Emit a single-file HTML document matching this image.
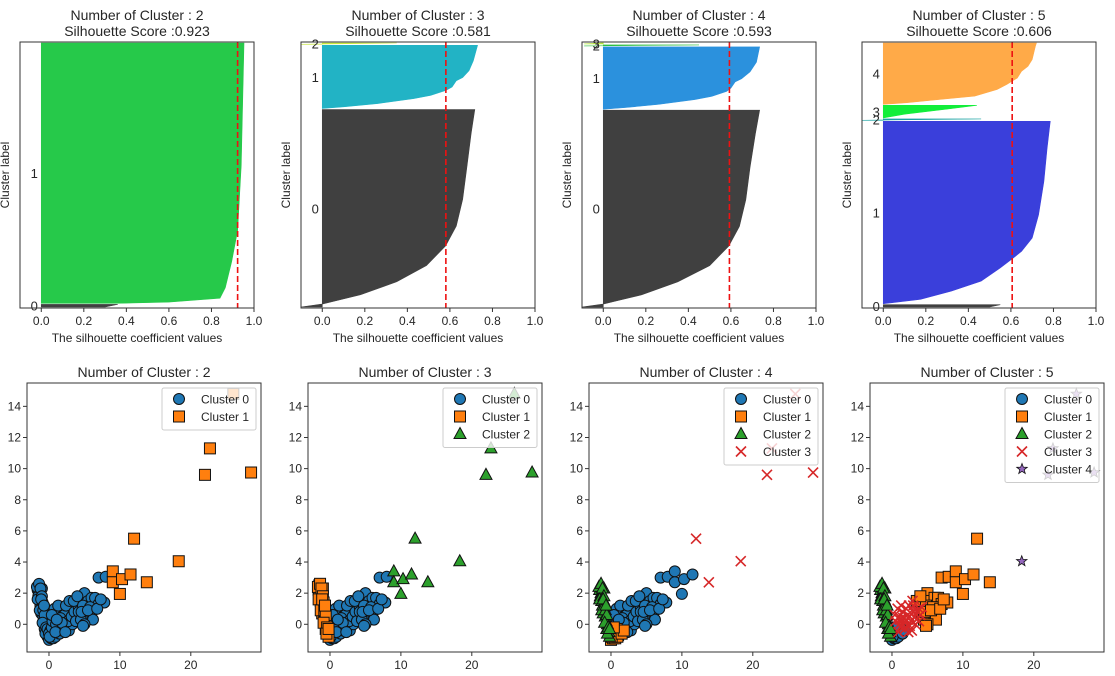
<!DOCTYPE html>
<html><head><meta charset="utf-8"><style>
html,body{margin:0;padding:0;background:#fff;}
svg{display:block;font-family:"Liberation Sans","NanumGothic",sans-serif;}
</style></head><body>
<svg id="fig" width="1115" height="676" viewBox="0 0 1115 676" xmlns="http://www.w3.org/2000/svg"></svg>
<script>
// ---------- data ----------
const clusterCounts = [2, 3, 4, 5];
const silScores = [0.923, 0.581, 0.593, 0.606];
const sizesK2 = [8, 790];
const sizesK3 = [600, 192, 4];
const sizesK4 = [600, 190, 3, 3];
const sizesK5 = [7, 550, 4, 38, 185];
const fracsK2 = [[0, 1], [0, 0.005, 0.02, 0.06, 0.16, 0.28, 0.53, 1]];
const valsK2 = [[0.30, 0.36], [0.35, 0.6, 0.84, 0.865, 0.895, 0.923, 0.94, 0.953]];
const fracsK3 = [[0,0.015,0.028,0.062,0.128,0.21,0.31,0.41,0.545,0.71,0.88,1],[0,0.026,0.078,0.156,0.208,0.286,0.34,0.44,0.49,0.6,0.755,1],[0,1]];
const valsK3 = [[-0.1,0.0,0.05,0.18,0.35,0.49,0.58,0.63,0.66,0.68,0.70,0.717],[0.0,0.1,0.26,0.43,0.51,0.58,0.61,0.63,0.66,0.69,0.71,0.73],[-0.1,0.35]];
const fracsK4 = [[0,0.015,0.028,0.062,0.128,0.21,0.31,0.41,0.545,0.71,0.88,1],[0,0.026,0.078,0.156,0.208,0.286,0.34,0.44,0.49,0.6,0.755,1],[0,1],[0,1]];
const valsK4 = [[-0.1,0.0,0.05,0.18,0.35,0.5,0.59,0.64,0.67,0.69,0.715,0.735],[0,0.1,0.26,0.43,0.51,0.58,0.6,0.62,0.65,0.69,0.72,0.735],[-0.09,0.45],[-0.09,0.0]];
const fracsK5 = [[0,1],[0,0.024,0.069,0.124,0.196,0.25,0.287,0.36,0.487,0.67,0.85,1],[0,1],[0,0.3,0.7,1],[0,0.027,0.081,0.135,0.243,0.324,0.43,0.54,0.62,0.73,0.946,1]];
const valsK5 = [[0.5,0.55],[0,0.175,0.32,0.46,0.55,0.61,0.65,0.70,0.73,0.755,0.77,0.785],[-0.1,0.46],[0.0,0.1,0.3,0.44],[0,0.11,0.27,0.43,0.535,0.58,0.63,0.65,0.68,0.70,0.715,0.72]];
const silColors = [["#404040","#26c94a"],["#404040","#22b3c5","#c8e83a"],["#404040","#2b91dd","#2dbf40","#b8e83a"],["#404040","#3a3fdb","#19a3a3","#12ee3a","#ffaa48"]];

// scatter points by region: left arm, bottom, central, right arm, mid outliers, far outliers
const leftX = [-1.5,-1.6,-1.4,-1.5,-1.3,-1.2,-1.0,-1.1,-0.8,-0.7,-0.5,-0.6,-0.3,-0.2,-1.0,-1.7,-1.4,-1.2,-1.6,-1.0,-0.9,-1.3,-0.8,-0.6,-0.9,-0.4,-0.5,-0.2,-1.1,-0.7];
const leftY = [2.5,2.2,2.0,1.8,1.5,1.2,1.0,0.7,0.5,0.2,0,-0.3,-0.5,-0.8,2.3,2.4,2.6,2.3,1.6,1.8,1.4,0.9,0.9,0.6,0.1,-0.2,-0.6,-0.3,1.6,1.2];
const botX = [0,0.3,0.5,0.2,1,0.8,0,1.3,0.6,0.9,0.1,1.5,1.8,0.4];
const botY = [-1,-0.9,-0.6,-0.4,-0.7,-0.3,-0.6,-0.5,-0.9,-0.8,-0.8,-0.6,-0.4,-0.2];
const cenX = [1.5,2,2.5,3,1,1.8,2.5,3.5,3,2,1.5,0.5,3.8,2.8,1.2,4,3.3,2.2,0.8,1.6,1,2,2.7,3.2,1.3,2.4,3.6,0.4,1.8,2.9,3.8,4.2,0.9,2.3,1.1];
const cenY = [0,0.3,0.5,0.8,0.5,-0.3,-0.1,0.3,1.2,1,0.8,0.2,1.0,-0.4,-0.2,0.6,0.0,0.6,1.0,0.4,0,-0.2,0.2,0.5,1.2,1.2,0.8,0.6,0.1,1.5,0.2,1.1,-0.5,-0.5,0.3];
const rightX = [4.3,5,4.2,5.5,6,6.5,5.2,4.5,6.0,7,7.8,7,8,3.5,4.8,5.8,6.2,5.0,4.0,4.6,5.5,6.8,7.3,4.8];
const rightY = [1.7,2.0,0.8,1.5,1.7,1.7,0.6,0.3,0.7,1.3,1.4,3.0,3.05,1.5,1.2,1.1,0.3,0.0,1.8,0.8,0.9,1.0,1.6,-0.1];
const midX = [9,9,10.3,11.5,10,13.8,12];
const midY = [3.4,2.7,2.9,3.2,1.95,2.7,5.5];
const farX = [18.3,22,22.7,28.5,26];
const farY = [4.05,9.6,11.3,9.75,14.8];
// cluster labels per k, per region
const labelsK2 = {left:"0", bot:"0", cen:"0", right:"0", mid:"1111111", far:"11111"};
const labelsK3 = {left:"1", bot:"0", cen:"0", right:"0", mid:"2222222", far:"22222"};
const labelsK4 = {left:"2", bot:"1", cen:"0", right:"0", mid:"0000033", far:"33333"};
const labelsK5 = {left:"2", bot:"0", cen:"3", right:"1", mid:"1111111", far:"44444"};
const xTicksB = [0, 10, 20];
const yTicksB = [0, 2, 4, 6, 8, 10, 12, 14];
const xTicksT = [0.0, 0.2, 0.4, 0.6, 0.8, 1.0];
const mColors = ["#1f77b4","#ff7f0e","#2ca02c","#d62728","#9467bd"];

// ---------- helpers ----------
const NS = "http://www.w3.org/2000/svg";
const fig = document.getElementById("fig");
function mk(tag, attrs, parent) {
  const e = document.createElementNS(NS, tag);
  for (const k in attrs) e.setAttribute(k, attrs[k]);
  (parent || fig).appendChild(e);
  return e;
}
function txt(s, x, y, size, anchor, parent, fill) {
  const t = mk("text", {x: x, y: y, "font-size": size, "text-anchor": anchor || "middle", fill: fill || "#262626"}, parent);
  t.textContent = s;
  return t;
}
const ptX = [].concat(leftX, botX, cenX, rightX, midX, farX);
const ptY = [].concat(leftY, botY, cenY, rightY, midY, farY);
function buildLabels(L) {
  const lab = c => (L[c].length === 1 ? L[c] : null);
  let s = "";
  s += lab("left") ? lab("left").repeat(leftX.length) : L.left;
  s += lab("bot") ? lab("bot").repeat(botX.length) : L.bot;
  s += lab("cen") ? lab("cen").repeat(cenX.length) : L.cen;
  s += lab("right") ? lab("right").repeat(rightX.length) : L.right;
  s += L.mid + L.far;
  return s;
}
const sizesAll = [sizesK2, sizesK3, sizesK4, sizesK5];
const fracsAll = [fracsK2, fracsK3, fracsK4, fracsK5];
const valsAll = [valsK2, valsK3, valsK4, valsK5];
const labelsAll = [labelsK2, labelsK3, labelsK4, labelsK5].map(buildLabels);
const topX = [20, 301, 582, 862], botAx = [27, 308, 589, 870];
const W = 234, TY = 42, TH = 266, BY = 383, BH = 269;

// ---------- silhouette plots ----------
clusterCounts.forEach((k, p) => {
  const g = mk("g", {});
  
  
  const ax = topX[p];
  const sizes = sizesAll[p];
  const gap = 3;
  const N = sizes.reduce((a, b) => a + b, 0);
  const T = N + (k + 1) * gap;
  const sx = v => ax + (v + 0.1) / 1.1 * W;
  const sy = u => TY + TH - u / T * TH;
  let yl = gap;
  sizes.forEach((sz, i) => {
    const fr = fracsAll[p][i], vs = valsAll[p][i];
    let pts = [[sx(0), sy(yl)]];
    fr.forEach((f, j) => pts.push([sx(vs[j]), sy(yl + f * sz)]));
    pts.push([sx(0), sy(yl + sz)]);
    const poly = mk("polygon", {points: pts.map(q => q.join(",")).join(" "), fill: silColors[p][i], stroke: silColors[p][i], "stroke-width": 0.6}, g);
    
    
    const lab = txt(String(i), sx(-0.05), sy(yl + 0.5 * sz) + 5, 13, "start", g);
    
    
    yl += sz + gap;
  });
  const avg = mk("line", {x1: sx(silScores[p]), x2: sx(silScores[p]), y1: TY, y2: TY + TH, stroke: "#ee1111", "stroke-width": 1.6, "stroke-dasharray": "6,3"}, g);
  
  
  const frame = mk("rect", {x: ax, y: TY, width: W, height: TH, fill: "none", stroke: "#333", "stroke-width": 1}, g);
  
  
  xTicksT.forEach(v => {
    mk("line", {x1: sx(v), x2: sx(v), y1: TY + TH, y2: TY + TH + 4, stroke: "#333"}, g);
    const t = txt(v.toFixed(1), sx(v), TY + TH + 17, 12, "middle", g);
    
    
  });
  const xl = txt("The silhouette coefficient values", ax + W / 2, 342, 12, "middle", g);
  
  
  const yx = ax - 11, yy = TY + TH / 2;
  const ylab = txt("Cluster label", yx, yy, 12, "middle", g);
  ylab.setAttribute("transform", "rotate(-90 " + yx + " " + yy + ")");
  
  
  const t1 = txt("Number of Cluster : " + k, ax + W / 2, 20, 14, "middle", g);
  
  
  const t2 = txt("Silhouette Score :" + silScores[p].toFixed(3), ax + W / 2, 36, 14, "middle", g);
  
  
});

// ---------- scatter plots ----------
function marker(c, x, y, g) {
  const col = mColors[c];
  let e;
  if (c === 0) e = mk("circle", {cx: x, cy: y, r: 5.5, fill: col, stroke: "#111", "stroke-width": 1}, g);
  else if (c === 1) e = mk("rect", {x: x - 5.5, y: y - 5.5, width: 11, height: 11, fill: col, stroke: "#111", "stroke-width": 1}, g);
  else if (c === 2) e = mk("polygon", {points: `${x},${y-6.5} ${x+6},${y+4.5} ${x-6},${y+4.5}`, fill: col, stroke: "#111", "stroke-width": 1}, g);
  else if (c === 3) e = mk("path", {d: `M${x-5},${y-5}L${x+5},${y+5}M${x-5},${y+5}L${x+5},${y-5}`, stroke: col, "stroke-width": 1.6, fill: "none"}, g);
  else {
    let pts = [];
    for (let i = 0; i < 10; i++) { const r = i % 2 ? 2.3 : 5.5, a = -Math.PI / 2 + i * Math.PI / 5; pts.push((x + r * Math.cos(a)).toFixed(2) + "," + (y + r * Math.sin(a)).toFixed(2)); }
    e = mk("polygon", {points: pts.join(" "), fill: col, stroke: "#111", "stroke-width": 0.8}, g);
  }
  return e;
}
clusterCounts.forEach((k, p) => {
  const g = mk("g", {});
  
  
  const ax = botAx[p];
  const bx = v => ax + (v + 3.1) / 33 * W;
  const by = v => BY + BH - (v + 1.78) / 17.28 * BH;
  const labs = labelsAll[p];
  for (let c = 0; c < k; c++) {
    ptX.forEach((x, i) => {
      if (+labs[i] !== c) return;
      const m = marker(c, bx(x), by(ptY[i]), g);
      
      
    });
  }
  const frame = mk("rect", {x: ax, y: BY, width: W, height: BH, fill: "none", stroke: "#333", "stroke-width": 1}, g);
  
  
  xTicksB.forEach(v => {
    mk("line", {x1: bx(v), x2: bx(v), y1: BY + BH, y2: BY + BH + 4, stroke: "#333"}, g);
    const t = txt(String(v), bx(v), BY + BH + 17, 12, "middle", g);
    
    
  });
  yTicksB.forEach(v => {
    mk("line", {x1: ax - 4, x2: ax, y1: by(v), y2: by(v), stroke: "#333"}, g);
    const t = txt(String(v), ax - 6, by(v) + 4, 12, "end", g);
    
    
  });
  const tt = txt("Number of Cluster : " + k, ax + W / 2, 377, 14, "middle", g);
  
  
  // legend
  const lg = mk("g", {}, g);
  
  
  const lw = 94, lh = 17.5 * k + 7, lx = ax + W - lw - 5, ly = BY + 5;
  mk("rect", {x: lx, y: ly, width: lw, height: lh, rx: 2, fill: "#fff", "fill-opacity": 0.8, stroke: "#ccc", "stroke-width": 1}, lg);
  for (let c = 0; c < k; c++) {
    const ey = ly + 11 + c * 17.5;
    const m = marker(c, lx + 17, ey, lg);
    
    
    const t = txt("Cluster " + c, lx + 39, ey + 4.5, 12, "start", lg);
    
    
  }
});
</script>
</body></html>
